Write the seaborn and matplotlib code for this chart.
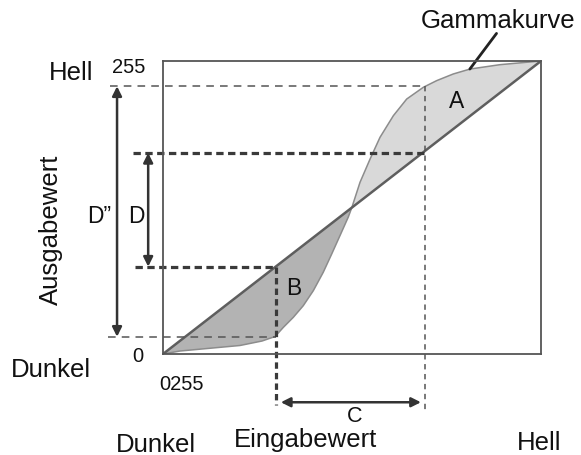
import numpy as np
import pandas as pd
import matplotlib
matplotlib.use("Agg")
import matplotlib.pyplot as plt
import seaborn as sns

# ---- data ----
gamma_in = [0, 11.5, 31.7, 51.9, 66.8, 75.6, 81.2, 87.9, 94.6, 101.4, 108.1, 113.8, 120.5,
            125.0, 127.5, 132.9, 139.7, 146.4, 155.4, 164.4, 175.6, 184.6, 195.8, 207.1,
            227.3, 245.3, 255]
gamma_out = [0, 2.6, 5.0, 7.4, 11.3, 15.2, 23.2, 31.9, 42.0, 55.1, 71.1, 87.0, 106.2,
             119.2, 127.9, 149.4, 169.7, 188.6, 207.4, 221.9, 232.1, 237.9, 243.7, 248.0,
             251.8, 253.9, 255]
diag_in = [0, 255]
diag_out = [0, 255]
in_lo, in_hi = 76, 177          # marked input values (C)
out_lo, out_hi = 15, 233        # gamma output at marked inputs (D'')
lin_lo, lin_hi = 76, 175        # linear output at marked inputs (D)
leader_pt = (207, 248)          # where the "Gammakurve" leader touches the curve

W, H = 581, 456
sns.set_style("white")
plt.rcParams['font.family'] = ['Liberation Sans', 'DejaVu Sans']

fig = plt.figure(figsize=(W / 100, H / 100), dpi=100)
ax = fig.add_axes([163 / W, 101 / H, 378 / W, 293 / H])
ax.set_xlim(0, 255)
ax.set_ylim(0, 255)
ax.set_xticks([])
ax.set_yticks([])
for s in ax.spines.values():
    s.set_color('#555555')
    s.set_linewidth(1.3)

gi = np.array(gamma_in)
go = np.array(gamma_out)
ax.fill_between(gi, go, gi, where=go >= gi, interpolate=True, color='#d9d9d9', lw=0)
ax.fill_between(gi, go, gi, where=go <= gi, interpolate=True, color='#b3b3b3', lw=0)

df_g = pd.DataFrame({'x': gamma_in, 'y': gamma_out})
df_d = pd.DataFrame({'x': diag_in, 'y': diag_out})
sns.lineplot(data=df_g, x='x', y='y', ax=ax, color='#8c8c8c', lw=1.1, sort=False)
sns.lineplot(data=df_d, x='x', y='y', ax=ax, color='#5e5e5e', lw=1.8, sort=False)
ax.set_xlabel('')
ax.set_ylabel('')

thin = dict(color='#555555', lw=1.1, ls=(0, (5, 4)), clip_on=False)
thick = dict(color='#3a3a3a', lw=2.3, ls=(0, (2.3, 1.4)), clip_on=False)

# D'' guide lines
ax.plot([-36, in_hi], [out_hi, out_hi], **thin)
ax.plot([-37, in_lo], [out_lo, out_lo], **thin)
# D guide lines
ax.plot([-20, in_hi], [lin_hi, lin_hi], **thick)
ax.plot([-19, in_lo], [lin_lo, lin_lo], **thick)
# vertical guides
ax.plot([in_lo, in_lo], [lin_lo, -44], color='#3a3a3a', lw=2.3, ls=(0, (2.0, 1.3)), clip_on=False)
ax.plot([in_hi, in_hi], [out_hi, -51], color='#555555', lw=1.1, ls=(0, (3.5, 3)), clip_on=False)

arrow = dict(arrowstyle='<|-|>', color='#333333', lw=1.8, mutation_scale=14,
             shrinkA=0, shrinkB=0)
ax.annotate('', xy=(-31, out_hi), xytext=(-31, out_lo), arrowprops=arrow, annotation_clip=False)
ax.annotate('', xy=(-10, lin_hi), xytext=(-10, lin_lo), arrowprops=arrow, annotation_clip=False)
ax.annotate('', xy=(in_lo + 3.5, -42), xytext=(in_hi - 3, -42), arrowprops=arrow, annotation_clip=False)

# leader for Gammakurve
ax.plot([leader_pt[0], 225], [leader_pt[1], 279], color='#222222', lw=2, clip_on=False)

def ftext(x, y, s, size, **kw):
    fig.text(x / W, 1 - y / H, s, fontsize=size, ha='center', va='baseline', color='#111111', **kw)

big, num, let = 18.5, 14.5, 16.5
ftext(498, 28, 'Gammakurve', big)
ftext(71, 80, 'Hell', big)
ftext(129, 73, '255', num)
ftext(99, 223, 'D\u201d', let)
ftext(136, 223, 'D', let)
ftext(138, 362, '0', num)
ftext(51, 377, 'Dunkel', big)
ftext(182, 390, '0255', num)
ftext(156, 452, 'Dunkel', big)
ftext(306, 447, 'Eingabewert', big)
ftext(355, 422, 'C', 15.5)
ftext(539, 450, 'Hell', big)
ftext(457, 108, 'A', let)
ftext(294, 295, 'B', let)
fig.text(51 / W, 1 - 230 / H, 'Ausgabewert', fontsize=big, rotation=90,
         ha='center', va='center', color='#111111')

fig.savefig('out.png', dpi=100)
